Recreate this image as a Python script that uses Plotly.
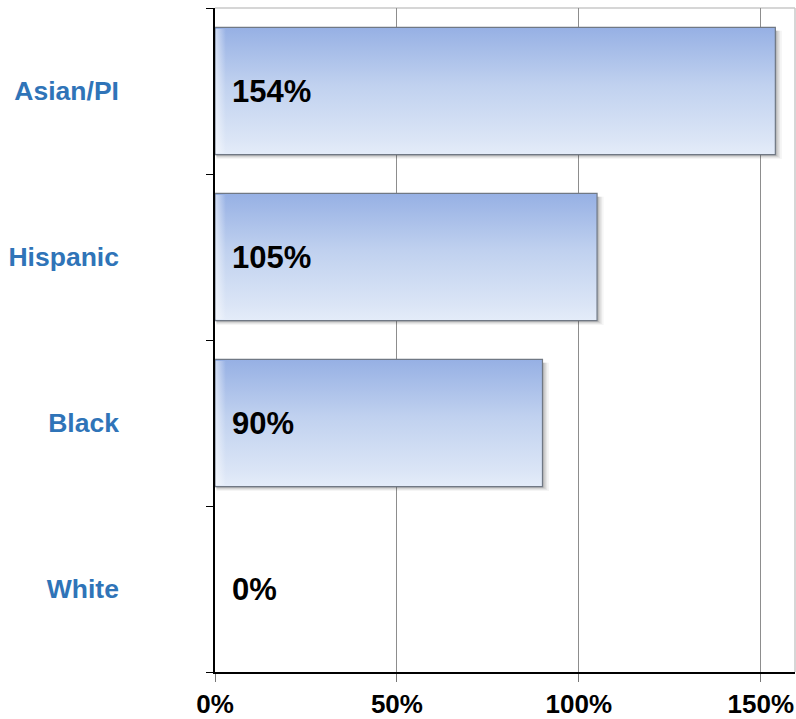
import plotly.graph_objects as go

# Growth by group (percent), listed bottom to top
groups = ["White", "Black", "Hispanic", "Asian/PI"]
growth = [0, 90, 105, 154]

x_tick_vals = [0, 50, 100, 150]
x_tick_text = ["0%", "50%", "100%", "150%"]

FONT = "Liberation Sans, Arial, sans-serif"
LABEL_BLUE = "#2f74b8"
HALF = 0.383          # half bar thickness in category units
X_MAX = 159.4

fig = go.Figure()

# soft drop shadow under each bar (layered translucent copies)
shadow_layers = [(1.8, 0.026, 0.05), (1.3, 0.020, 0.08), (0.9, 0.014, 0.11), (0.5, 0.008, 0.16)]
for i, v in enumerate(growth):
    if v <= 0:
        continue
    for dx, dy, a in shadow_layers:
        x0, x1 = 0.4, v + dx
        y0, y1 = i - HALF - dy, i + HALF - 0.02
        fig.add_trace(go.Scatter(
            x=[x0, x1, x1, x0, x0], y=[y0, y0, y1, y1, y0],
            mode="lines", fill="toself", fillcolor=f"rgba(60,60,60,{a})",
            line=dict(width=0), hoverinfo="skip", showlegend=False))

# bars with a vertical blue gradient
for i, v in enumerate(growth):
    if v <= 0:
        continue
    y0, y1 = i - HALF, i + HALF
    fig.add_trace(go.Scatter(
        x=[0, v, v, 0, 0], y=[y0, y0, y1, y1, y0],
        mode="lines", fill="toself",
        fillgradient=dict(type="vertical",
                          colorscale=[[0, "#e4ecf9"], [0.12, "#dbe5f6"],
                                      [0.55, "#c0d1ef"], [1, "#96b0e4"]]),
        line=dict(color="#707884", width=1.2),
        name=groups[i], hovertemplate=f"{groups[i]}: {v}%<extra></extra>",
        showlegend=False))
    # light sheen along the left edge of the bar
    hx = min(3.0, v)
    fig.add_trace(go.Scatter(
        x=[0.2, hx, hx, 0.2, 0.2], y=[y0 + 0.01, y0 + 0.01, y1 - 0.01, y1 - 0.01, y0 + 0.01],
        mode="lines", fill="toself",
        fillgradient=dict(type="horizontal",
                          colorscale=[[0, "rgba(255,255,255,0.55)"], [1, "rgba(255,255,255,0)"]]),
        line=dict(width=0), hoverinfo="skip", showlegend=False))

# value labels inside the bars
for i, v in enumerate(growth):
    fig.add_annotation(
        x=0, y=i, xref="x", yref="y", text=f"{v}%", showarrow=False,
        xanchor="left", yanchor="middle", xshift=15,
        font=dict(family=FONT, size=31, color="black", weight="bold"))

fig.update_layout(
    width=796, height=719,
    margin=dict(l=215, r=1, t=8, b=47, autoexpand=False),
    paper_bgcolor="white", plot_bgcolor="white",
    showlegend=False,
    xaxis=dict(
        range=[0, X_MAX], tickvals=x_tick_vals, ticktext=x_tick_text,
        showgrid=True, gridcolor="#8d8d8d", gridwidth=1, zeroline=False,
        showline=True, linecolor="black", linewidth=1.5,
        ticks="outside", ticklen=8, tickcolor="#777777", tickwidth=1,
        ticklabelstandoff=0, automargin=False,
        tickfont=dict(family=FONT, size=26, color="black", weight="bold"),
        fixedrange=True),
    yaxis=dict(
        range=[-0.5, 3.5], tickvals=list(range(len(groups))), ticktext=groups,
        showgrid=False, zeroline=False,
        showline=True, linecolor="black", linewidth=1.5,
        ticks="", ticklabelstandoff=89, automargin=False,
        minor=dict(tickvals=[-0.5, 0.5, 1.5, 2.5, 3.5], ticks="outside",
                   ticklen=7, tickcolor="black", tickwidth=1, showgrid=False),
        tickfont=dict(family=FONT, size=26.5, color=LABEL_BLUE, weight="bold"),
        fixedrange=True),
    shapes=[
        dict(type="line", xref="paper", yref="paper", x0=0, x1=1, y0=1, y1=1,
             line=dict(color="#c8c8c8", width=1.5), layer="below"),
        dict(type="line", xref="paper", yref="paper", x0=1, x1=1, y0=0, y1=1,
             line=dict(color="#c8c8c8", width=1.5), layer="below"),
    ],
)

fig.write_html("out.html")
